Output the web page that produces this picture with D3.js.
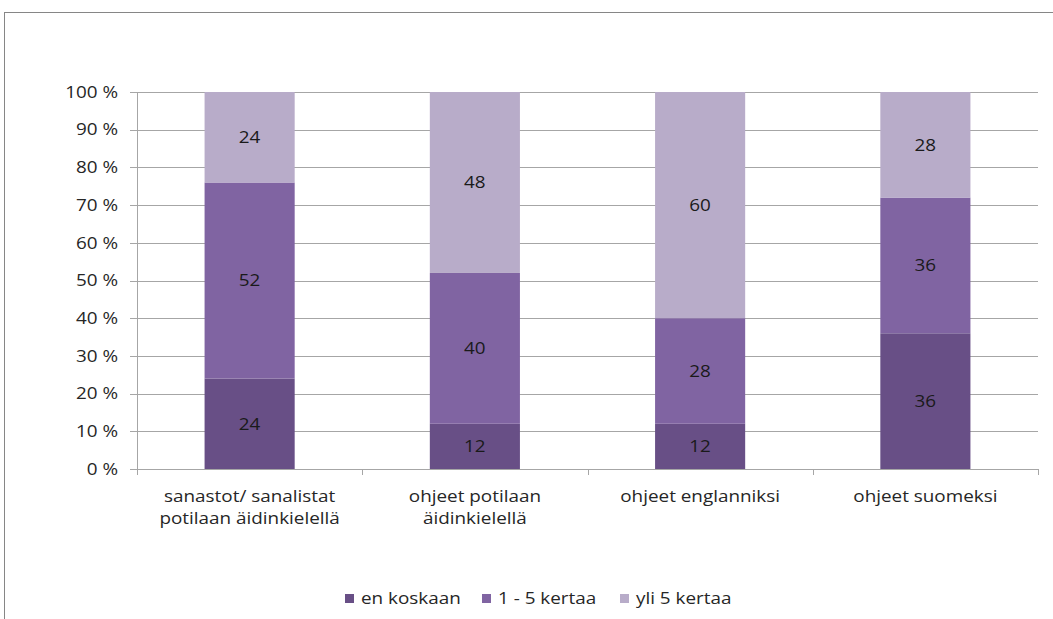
<!DOCTYPE html>
<html><head><meta charset="utf-8">
<script src="https://cdn.jsdelivr.net/npm/d3@7"></script>
<style>body{margin:0;background:#fff}svg{display:block}text{font-family:"Open Sans",sans-serif}</style>
</head><body>
<svg id="c" width="1053" height="619"></svg>
<script>
const categories = [["sanastot/ sanalistat","potilaan äidinkielellä"],["ohjeet potilaan","äidinkielellä"],["ohjeet englanniksi"],["ohjeet suomeksi"]];
const seriesNames = ["en koskaan","1 - 5 kertaa","yli 5 kertaa"];
const enKoskaan = [24,12,12,36];
const kertaa1to5 = [52,40,28,36];
const yli5 = [24,48,60,28];
const yTicks = [0,10,20,30,40,50,60,70,80,90,100];
const colors = ["#684f86","#8064a2","#b8acc9"];

const svg = d3.select("#c");
svg.append("rect").attr("x",4.5).attr("y",12.5).attr("width",1060).attr("height",620)
  .attr("fill","none").attr("stroke","#868686").attr("stroke-width",1);

const L=137, R=1038, T=92, B=469;
const FS = 16, SX = 1.18;
function label(parent, px, py, txt, anchor, fill){
  return parent.append("text").attr("transform",`translate(${px},${py}) scale(${SX},1)`)
    .attr("dy","0.36em").attr("text-anchor",anchor).attr("font-size",FS).attr("fill",fill||"#262626").text(txt);
}
const x = d3.scaleBand().domain(d3.range(categories.length)).range([L,R]).paddingInner(0.6).paddingOuter(0.3);
const y = d3.scaleLinear().domain([0,100]).range([B,T]);

svg.append("g").selectAll("line").data(yTicks).join("line")
  .attr("x1",130).attr("x2",R).attr("y1",d=>Math.round(y(d))+0.5).attr("y2",d=>Math.round(y(d))+0.5)
  .attr("stroke","#a6a6a6");
svg.append("line").attr("x1",L+0.5).attr("x2",L+0.5).attr("y1",T).attr("y2",B).attr("stroke","#a6a6a6");
const yg = svg.append("g");
yTicks.forEach(d=>label(yg,118,y(d),d+" %","end"));

svg.append("g").selectAll("line").data(d3.range(categories.length+1)).join("line")
  .attr("x1",(d)=>Math.round(L+d*(R-L)/categories.length)+0.5).attr("x2",(d)=>Math.round(L+d*(R-L)/categories.length)+0.5)
  .attr("y1",B).attr("y2",B+6).attr("stroke","#a6a6a6");

const data = categories.map((c,i)=>({i, v:[enKoskaan[i],kertaa1to5[i],yli5[i]]}));
const stack = d3.stack().keys([0,1,2]).value((d,k)=>d.v[k]);
const stacked = stack(data);
const g = svg.append("g");
stacked.forEach((layer,k)=>{
  g.append("g").selectAll("rect").data(layer).join("rect")
    .attr("x",d=>x(d.data.i)).attr("width",x.bandwidth())
    .attr("y",d=>y(d[1])).attr("height",d=>y(d[0])-y(d[1]))
    .attr("fill",colors[k]);
  const lg = g.append("g");
  layer.forEach(d=>label(lg, x(d.data.i)+x.bandwidth()/2, (y(d[0])+y(d[1]))/2, d.data.v[k], "middle", "#1a1a1a"));
});

const cg = svg.append("g");
categories.forEach((lines,i)=>{
  const cx = x(i)+x.bandwidth()/2;
  lines.forEach((s,j)=>label(cg, cx, 496+j*22, s, "middle"));
});

const legX = [345,482,620];
const leg = svg.append("g");
seriesNames.forEach((n,k)=>{
  leg.append("rect").attr("x",legX[k]).attr("y",594).attr("width",9).attr("height",9).attr("fill",colors[k]);
  label(leg, legX[k]+16, 598.5, n, "start");
});
</script>
</body></html>
